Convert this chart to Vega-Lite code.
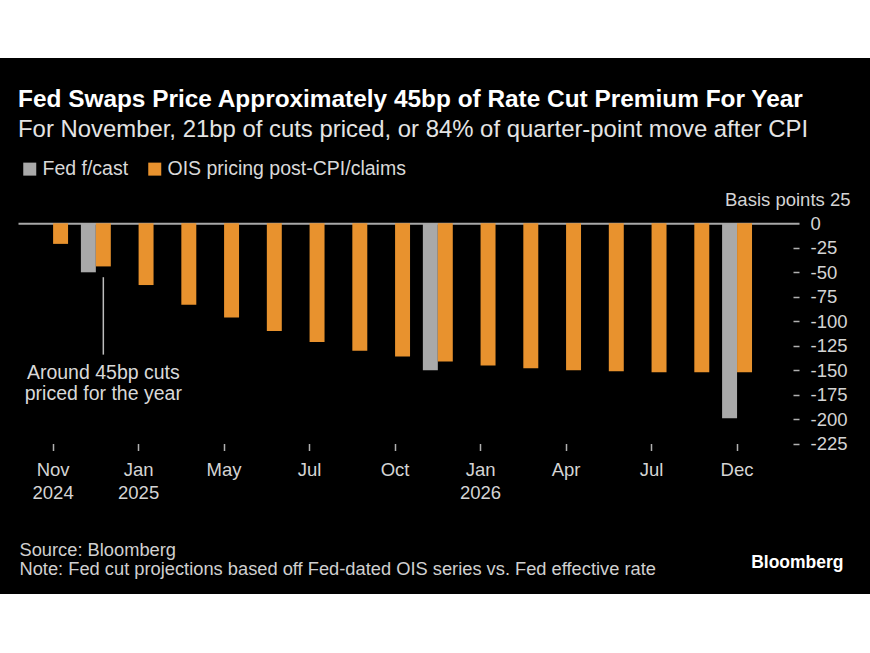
{
  "$schema": "https://vega.github.io/schema/vega-lite/v6.json",
  "width": 870,
  "height": 536,
  "autosize": {"type": "none"},
  "padding": {"top": 58, "bottom": 59, "left": 0, "right": 0},
  "background": "#ffffff",
  "title": {
    "text": "Fed Swaps Price Approximately 45bp of Rate Cut Premium For Year",
    "subtitle": "For November, 21bp of cuts priced, or 84% of quarter-point move after CPI",
    "anchor": "start",
    "frame": "group",
    "offset": -85,
    "dx": 18,
    "font": "Liberation Sans",
    "fontSize": 24.4,
    "fontWeight": "bold",
    "color": "#ffffff",
    "subtitleFont": "Liberation Sans",
    "subtitleFontSize": 23.9,
    "subtitleColor": "#e4e4e4",
    "subtitlePadding": 6
  },
  "data": {
    "values": [
      {"date": "Nov 2024", "series": "OIS pricing post-CPI/claims", "value": -21},
      {"date": "Dec 2024", "series": "Fed f/cast", "value": -50},
      {"date": "Dec 2024", "series": "OIS pricing post-CPI/claims", "value": -44},
      {"date": "Jan 2025", "series": "OIS pricing post-CPI/claims", "value": -63},
      {"date": "Mar 2025", "series": "OIS pricing post-CPI/claims", "value": -83},
      {"date": "May 2025", "series": "OIS pricing post-CPI/claims", "value": -96},
      {"date": "Jun 2025", "series": "OIS pricing post-CPI/claims", "value": -110},
      {"date": "Jul 2025", "series": "OIS pricing post-CPI/claims", "value": -121},
      {"date": "Sep 2025", "series": "OIS pricing post-CPI/claims", "value": -130},
      {"date": "Oct 2025", "series": "OIS pricing post-CPI/claims", "value": -136},
      {"date": "Dec 2025", "series": "Fed f/cast", "value": -150},
      {"date": "Dec 2025", "series": "OIS pricing post-CPI/claims", "value": -141},
      {"date": "Jan 2026", "series": "OIS pricing post-CPI/claims", "value": -145},
      {"date": "Mar 2026", "series": "OIS pricing post-CPI/claims", "value": -148},
      {"date": "Apr 2026", "series": "OIS pricing post-CPI/claims", "value": -150},
      {"date": "Jun 2026", "series": "OIS pricing post-CPI/claims", "value": -151},
      {"date": "Jul 2026", "series": "OIS pricing post-CPI/claims", "value": -152},
      {"date": "Sep 2026", "series": "OIS pricing post-CPI/claims", "value": -152},
      {"date": "Dec 2026", "series": "Fed f/cast", "value": -199},
      {"date": "Dec 2026", "series": "OIS pricing post-CPI/claims", "value": -152}
    ]
  },
  "layer": [
    {
      "mark": {"type": "bar"},
      "encoding": {
        "x": {
          "field": "date",
          "type": "ordinal",
          "scale": {
            "domain": ["Nov 2024", "Dec 2024", "Jan 2025", "Mar 2025", "May 2025", "Jun 2025", "Jul 2025", "Sep 2025", "Oct 2025", "Dec 2025", "Jan 2026", "Mar 2026", "Apr 2026", "Jun 2026", "Jul 2026", "Sep 2026", "Dec 2026"],
            "range": [18, 799],
            "paddingInner": 0.3,
            "paddingOuter": 0.785,
            "align": 0.3
          },
          "axis": {
            "orient": "bottom",
            "offset": -150.5,
            "values": ["Nov 2024", "Jan 2025", "May 2025", "Jul 2025", "Oct 2025", "Jan 2026", "Apr 2026", "Jul 2026", "Dec 2026"],
            "domain": false,
            "grid": false,
            "tickSize": 7,
            "tickColor": "#b0b0b0",
            "tickWidth": 1.5,
            "labelAngle": 0,
            "labelExpr": "datum.value == 'Nov 2024' ? ['Nov','2024'] : datum.value == 'Jan 2025' ? ['Jan','2025'] : datum.value == 'Jan 2026' ? ['Jan','2026'] : split(datum.value, ' ')[0]",
            "labelPadding": 10,
            "labelLineHeight": 23,
            "labelFont": "Liberation Sans",
            "labelFontSize": 18.5,
            "labelColor": "#d4d4d4",
            "title": ["Source: Bloomberg", "Note: Fed cut projections based off Fed-dated OIS series vs. Fed effective rate"],
            "titleX": 19,
            "titleY": 111.5,
            "titleAnchor": "start",
            "titleAlign": "left",
            "titleBaseline": "alphabetic",
            "titleFont": "Liberation Sans",
            "titleFontSize": 18.3,
            "titleFontWeight": "normal",
            "titleColor": "#d0d0d0",
            "titleLineHeight": 19.5
          }
        },
        "xOffset": {
          "field": "series",
          "type": "nominal",
          "scale": {"domain": ["Fed f/cast", "OIS pricing post-CPI/claims"], "paddingInner": 0, "paddingOuter": 0}
        },
        "y": {
          "field": "value",
          "type": "quantitative",
          "scale": {"domain": [-225, 25], "range": [385.8, 140.8], "nice": false, "zero": false},
          "axis": {
            "orient": "right",
            "offset": -77,
            "values": [25, 0, -25, -50, -75, -100, -125, -150, -175, -200, -225],
            "domain": false,
            "grid": false,
            "tickSize": 6,
            "tickColor": "#b0b0b0",
            "tickWidth": 1.5,
            "tickOpacity": {"condition": {"test": "datum.value >= 0", "value": 0}, "value": 1},
            "labelPadding": 11,
            "labelExpr": "datum.value == 25 ? '' : '' + datum.value",
            "labelFlush": false,
            "labelOverlap": false,
            "labelFont": "Liberation Sans",
            "labelFontSize": 18.5,
            "labelColor": "#d4d4d4",
            "title": "Bloomberg",
            "titleAngle": 0,
            "titleX": 50,
            "titleY": 509,
            "titleAlign": "right",
            "titleBaseline": "alphabetic",
            "titleFont": "Liberation Sans",
            "titleFontSize": 17.5,
            "titleFontWeight": "bold",
            "titleColor": "#ffffff"
          }
        },
        "color": {
          "field": "series",
          "type": "nominal",
          "scale": {"domain": ["Fed f/cast", "OIS pricing post-CPI/claims"], "range": ["#a9a9a9", "#e8922e"]},
          "legend": {
            "orient": "none",
            "legendX": 20,
            "legendY": 101,
            "direction": "horizontal",
            "title": null,
            "symbolType": "square",
            "symbolSize": 169,
            "symbolStrokeWidth": 0,
            "labelFont": "Liberation Sans",
            "labelFontSize": 19.5,
            "labelColor": "#d9d9d9",
            "labelLimit": 500,
            "labelOffset": 3,
            "columnPadding": 16,
            "padding": 0
          }
        }
      }
    },
    {
      "data": {"values": [{}]},
      "mark": {"type": "rule", "color": "#bdbdbd", "strokeWidth": 1.5},
      "encoding": {
        "x": {
          "datum": "Dec 2024",
          "type": "ordinal",
          "axis": {
            "orient": "top",
            "offset": -165.3,
            "domain": true,
            "domainColor": "#a8a8a8",
            "domainWidth": 2,
            "ticks": false,
            "labels": false,
            "grid": false,
            "title": "Basis points 25",
            "titleX": 850,
            "titleY": -23.5,
            "titleAlign": "right",
            "titleAnchor": "end",
            "titleBaseline": "middle",
            "titleAngle": 0,
            "titleFont": "Liberation Sans",
            "titleFontSize": 18.5,
            "titleFontWeight": "normal",
            "titleColor": "#d4d4d4"
          }
        },
        "xOffset": {"datum": "OIS pricing post-CPI/claims", "type": "nominal"},
        "y": {"datum": -55, "type": "quantitative"},
        "y2": {"datum": -134}
      }
    },
    {
      "data": {"values": [{}]},
      "mark": {
        "type": "text",
        "text": ["Around 45bp cuts", "priced for the year"],
        "align": "center",
        "baseline": "alphabetic",
        "font": "Liberation Sans",
        "fontSize": 19.5,
        "lineHeight": 20.5,
        "color": "#d9d9d9"
      },
      "encoding": {
        "x": {"datum": "Dec 2024", "type": "ordinal", "axis": null},
        "xOffset": {"datum": "OIS pricing post-CPI/claims", "type": "nominal"},
        "y": {"datum": -159, "type": "quantitative"}
      }
    }
  ],
  "config": {
    "view": {"fill": "#000000", "stroke": null},
    "font": "Liberation Sans"
  }
}
